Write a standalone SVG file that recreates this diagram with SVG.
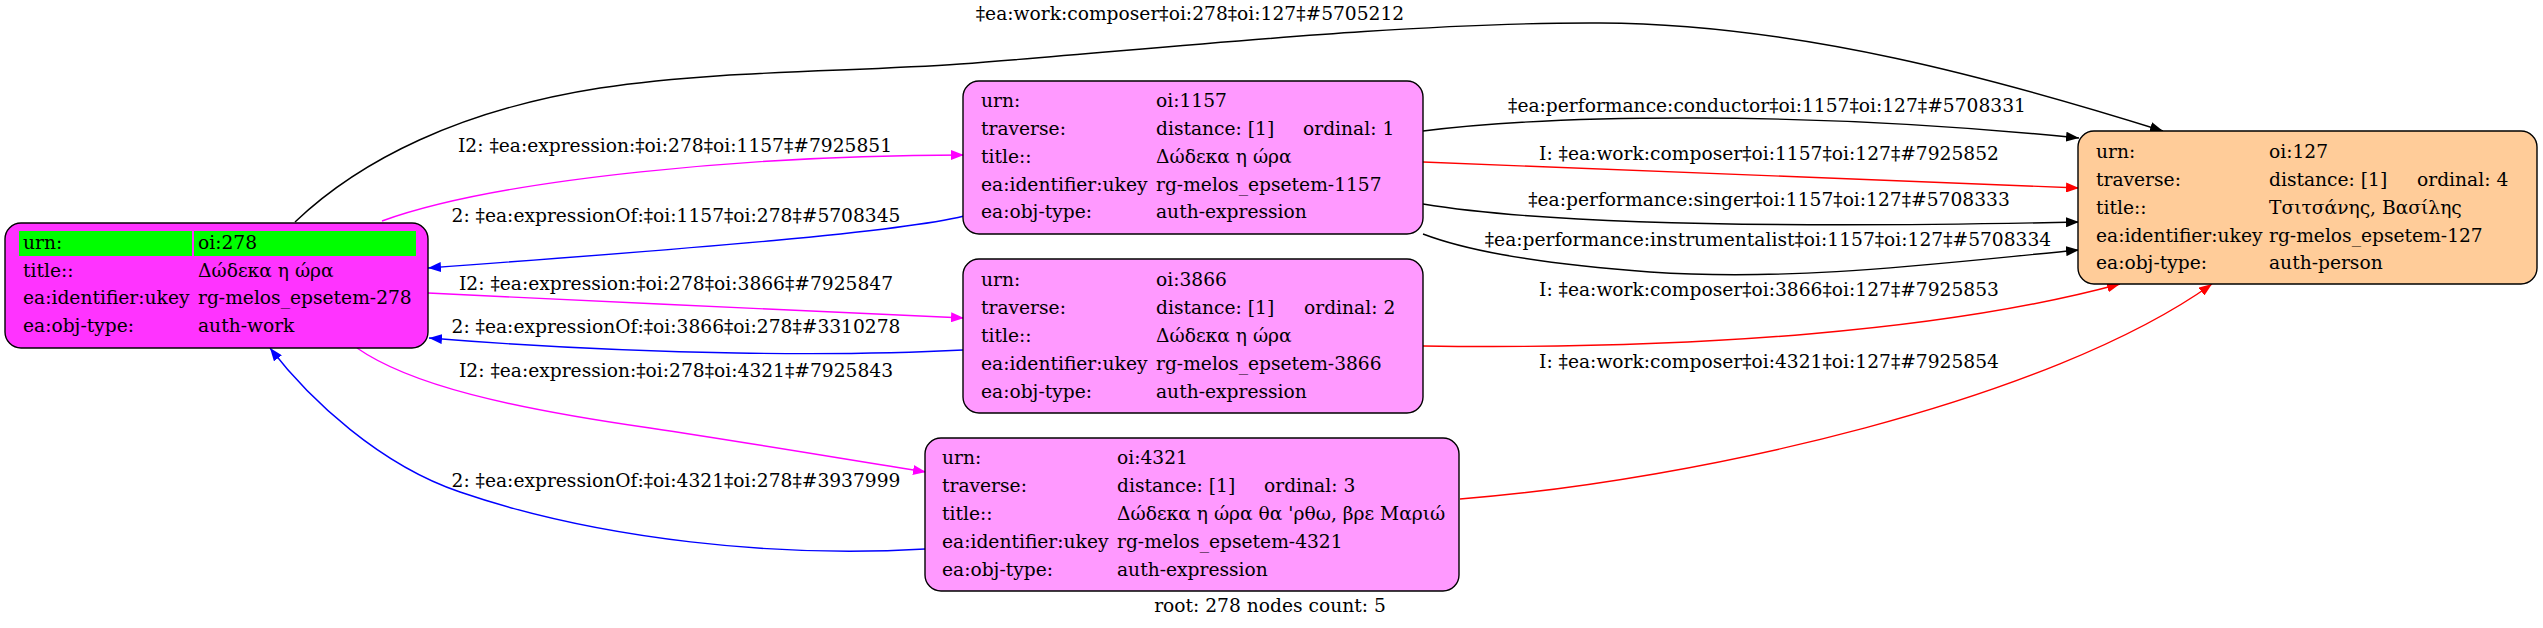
<svg xmlns="http://www.w3.org/2000/svg" width="2543" height="628" viewBox="0 0 2543 628">
<style>
text{font-family:"DejaVu Serif","Liberation Serif",serif;font-size:18.67px;fill:#000}
.el{text-anchor:middle}
.box{stroke:#000;stroke-width:1.4}
.e{fill:none;stroke-width:1.4}
.k{stroke:#000}.m{stroke:#ff00ff}.b{stroke:#0000ff}.r{stroke:#ff0000}
</style>
<defs>
<marker id="ak" viewBox="0 0 13 10" refX="13" refY="5" markerWidth="13" markerHeight="10" markerUnits="userSpaceOnUse" orient="auto"><path d="M0,0L13,5L0,10z" fill="#000"/></marker>
<marker id="am" viewBox="0 0 13 10" refX="13" refY="5" markerWidth="13" markerHeight="10" markerUnits="userSpaceOnUse" orient="auto"><path d="M0,0L13,5L0,10z" fill="#ff00ff"/></marker>
<marker id="ab" viewBox="0 0 13 10" refX="13" refY="5" markerWidth="13" markerHeight="10" markerUnits="userSpaceOnUse" orient="auto"><path d="M0,0L13,5L0,10z" fill="#0000ff"/></marker>
<marker id="ar" viewBox="0 0 13 10" refX="13" refY="5" markerWidth="13" markerHeight="10" markerUnits="userSpaceOnUse" orient="auto"><path d="M0,0L13,5L0,10z" fill="#ff0000"/></marker>
</defs>
<rect width="2543" height="628" fill="#fff"/>
<g id="connectors">
<path class="e k" marker-end="url(#ak)" d="M295,222 C360,160 460,110 600,88 C720,70 850,72 960,64 C1150,50 1400,22 1600,23 C1800,24 2000,80 2163,131"/>
<text class="el" x="1190" y="20">‡ea:work:composer‡oi:278‡oi:127‡#5705212</text>
<path class="e m" marker-end="url(#am)" d="M382,221 C500,178 760,155 964,155"/>
<text class="el" x="675" y="152">I2: ‡ea:expression:‡oi:278‡oi:1157‡#7925851</text>
<path class="e b" marker-end="url(#ab)" d="M964,216 C900,232 700,248 428,268"/>
<text class="el" x="676" y="222">2: ‡ea:expressionOf:‡oi:1157‡oi:278‡#5708345</text>
<path class="e m" marker-end="url(#am)" d="M428,293 C600,302 800,310 964,318"/>
<text class="el" x="676" y="290">I2: ‡ea:expression:‡oi:278‡oi:3866‡#7925847</text>
<path class="e b" marker-end="url(#ab)" d="M963,350 C850,356 650,356 429,338"/>
<text class="el" x="676" y="333">2: ‡ea:expressionOf:‡oi:3866‡oi:278‡#3310278</text>
<path class="e m" marker-end="url(#am)" d="M357,348 C410,385 510,408 650,428 C750,443 850,460 926,472"/>
<text class="el" x="676" y="377">I2: ‡ea:expression:‡oi:278‡oi:4321‡#7925843</text>
<path class="e b" marker-end="url(#ab)" d="M925,549 C780,558 600,540 460,492 C380,465 310,400 270,348"/>
<text class="el" x="676" y="487">2: ‡ea:expressionOf:‡oi:4321‡oi:278‡#3937999</text>
<path class="e k" marker-end="url(#ak)" d="M1423,131 C1550,115 1800,110 2079,138"/>
<text class="el" x="1767" y="112">‡ea:performance:conductor‡oi:1157‡oi:127‡#5708331</text>
<path class="e r" marker-end="url(#ar)" d="M1423,162 L2079,188"/>
<text class="el" x="1769" y="160">I: ‡ea:work:composer‡oi:1157‡oi:127‡#7925852</text>
<path class="e k" marker-end="url(#ak)" d="M1423,204 C1550,225 1800,228 2079,222"/>
<text class="el" x="1769" y="206">‡ea:performance:singer‡oi:1157‡oi:127‡#5708333</text>
<path class="e k" marker-end="url(#ak)" d="M1423,234 C1460,248 1520,262 1650,272 C1800,282 1950,262 2079,250"/>
<text class="el" x="1768" y="246">‡ea:performance:instrumentalist‡oi:1157‡oi:127‡#5708334</text>
<path class="e r" marker-end="url(#ar)" d="M1423,346 C1700,350 1950,330 2120,284"/>
<text class="el" x="1769" y="296">I: ‡ea:work:composer‡oi:3866‡oi:127‡#7925853</text>
<path class="e r" marker-end="url(#ar)" d="M1460,499 C1700,480 2050,400 2212,284"/>
<text class="el" x="1769" y="368">I: ‡ea:work:composer‡oi:4321‡oi:127‡#7925854</text>
</g>
<g id="n278">
<rect class="box" x="5" y="223" width="423" height="125" rx="16" fill="#ff33ff"/>
<rect x="19" y="231" width="173" height="25" fill="#00ff00"/>
<rect x="194" y="231" width="222" height="25" fill="#00ff00"/>
<text x="23" y="249">urn:</text><text x="198" y="249">oi:278</text>
<text x="23" y="277">title::</text><text x="198" y="277">Δώδεκα η ώρα</text>
<text x="23" y="304">ea:identifier:ukey</text><text x="198" y="304">rg-melos_epsetem-278</text>
<text x="23" y="332">ea:obj-type:</text><text x="198" y="332">auth-work</text>
</g>
<g id="n1157">
<rect class="box" x="963" y="81" width="460" height="153" rx="16" fill="#ff99ff"/>
<text x="981" y="107">urn:</text><text x="1156" y="107">oi:1157</text>
<text x="981" y="135">traverse:</text><text x="1156" y="135">distance: [1]</text><text x="1303" y="135">ordinal: 1</text>
<text x="981" y="163">title::</text><text x="1156" y="163">Δώδεκα η ώρα</text>
<text x="981" y="191">ea:identifier:ukey</text><text x="1156" y="191">rg-melos_epsetem-1157</text>
<text x="981" y="218">ea:obj-type:</text><text x="1156" y="218">auth-expression</text>
</g>
<g id="n3866">
<rect class="box" x="963" y="259" width="460" height="154" rx="16" fill="#ff99ff"/>
<text x="981" y="286">urn:</text><text x="1156" y="286">oi:3866</text>
<text x="981" y="314">traverse:</text><text x="1156" y="314">distance: [1]</text><text x="1304" y="314">ordinal: 2</text>
<text x="981" y="342">title::</text><text x="1156" y="342">Δώδεκα η ώρα</text>
<text x="981" y="370">ea:identifier:ukey</text><text x="1156" y="370">rg-melos_epsetem-3866</text>
<text x="981" y="398">ea:obj-type:</text><text x="1156" y="398">auth-expression</text>
</g>
<g id="n4321">
<rect class="box" x="925" y="438" width="534" height="153" rx="16" fill="#ff99ff"/>
<text x="942" y="464">urn:</text><text x="1117" y="464">oi:4321</text>
<text x="942" y="492">traverse:</text><text x="1117" y="492">distance: [1]</text><text x="1264" y="492">ordinal: 3</text>
<text x="942" y="520">title::</text><text x="1117" y="520">Δώδεκα η ώρα θα 'ρθω, βρε Μαριώ</text>
<text x="942" y="548">ea:identifier:ukey</text><text x="1117" y="548">rg-melos_epsetem-4321</text>
<text x="942" y="576">ea:obj-type:</text><text x="1117" y="576">auth-expression</text>
</g>
<g id="n127">
<rect class="box" x="2078" y="131" width="459" height="153" rx="16" fill="#ffcc99"/>
<text x="2096" y="158">urn:</text><text x="2269" y="158">oi:127</text>
<text x="2096" y="186">traverse:</text><text x="2269" y="186">distance: [1]</text><text x="2417" y="186">ordinal: 4</text>
<text x="2096" y="214">title::</text><text x="2269" y="214">Τσιτσάνης, Βασίλης</text>
<text x="2096" y="242">ea:identifier:ukey</text><text x="2269" y="242">rg-melos_epsetem-127</text>
<text x="2096" y="269">ea:obj-type:</text><text x="2269" y="269">auth-person</text>
</g>
<text class="el" x="1270" y="612">root: 278 nodes count: 5</text>
</svg>
